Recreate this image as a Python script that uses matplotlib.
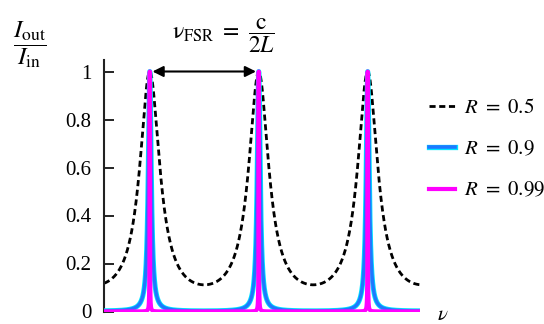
import numpy as np
import matplotlib.pyplot as plt
from matplotlib.lines import Line2D

plt.rcParams['mathtext.fontset'] = 'stix'
plt.rcParams['font.family'] = ['Liberation Serif', 'DejaVu Serif']

# mirror reflectivities shown in the legend
reflectivity = [0.5, 0.9, 0.99]
labels = [r'$R\ =\ 0.5$', r'$R\ =\ 0.9$', r'$R\ =\ 0.99$']
# transmission peaks, in units of the free spectral range
peaks = [0, 1, 2]
x_min, x_max = -0.42, 2.48
y_ticks = [0, 0.2, 0.4, 0.6, 0.8, 1]
y_tick_labels = ['0', '0.2', '0.4', '0.6', '0.8', '1']

nu = np.linspace(x_min, x_max, 40001)


def airy(r):
    f = 4 * r / (1 - r) ** 2
    return 1.0 / (1.0 + f * np.sin(np.pi * nu) ** 2)


fig = plt.figure(figsize=(5.44, 3.24), dpi=100)
ax = fig.add_axes([104 / 544, 1 - 311.5 / 324, 316 / 544, 252 / 324])

ax.plot(nu, airy(reflectivity[0]), color='black', lw=2.0, dashes=(2.2, 1.3), zorder=2)
ax.plot(nu, airy(reflectivity[1]), color='#00e5ff', lw=3.6, zorder=3, solid_capstyle='round')
ax.plot(nu, airy(reflectivity[1]), color='#1e78ff', lw=2.4, zorder=3.1, solid_capstyle='round')
ax.plot(nu, airy(reflectivity[2]), color='#ff00ff', lw=3.0, zorder=4, solid_capstyle='round')

ax.set_xlim(x_min, x_max)
ax.set_ylim(0, 1.05)
ax.set_yticks(y_ticks)
ax.set_yticklabels(y_tick_labels)
ax.set_xticks([])
ax.tick_params(axis='y', direction='in', length=7, width=1.2, pad=9, labelsize=15)
for s in ['top', 'right', 'bottom']:
    ax.spines[s].set_visible(False)
ax.spines['left'].set_linewidth(1.5)
ax.spines['left'].set_color('#222222')

# free spectral range arrow
ax.annotate('', xy=(peaks[0] + 0.025, 1.0), xytext=(peaks[1] - 0.025, 1.0),
            arrowprops=dict(arrowstyle='<|-|>', color='black', lw=1.5,
                            mutation_scale=16, shrinkA=0, shrinkB=0))

fig.text(224 / 544, 1 - 36 / 324, r'$\mathrm{\nu_{FSR}}\ =\ \dfrac{\mathrm{c}}{2L}$',
         fontsize=17, ha='center', va='center')
fig.text(30 / 544, 1 - 45 / 324, r'$\dfrac{I_{\mathrm{out}}}{I_{\mathrm{in}}}$',
         fontsize=18, ha='center', va='center')
fig.text(443 / 544, 1 - 315 / 324, r'$\nu$', fontsize=15, ha='center', va='center')

handles = [
    Line2D([], [], color='black', lw=2.0, dashes=(2.2, 1.3)),
    (Line2D([], [], color='#00e5ff', lw=3.8), Line2D([], [], color='#1e78ff', lw=2.6)),
    Line2D([], [], color='#ff00ff', lw=3.0),
]
fig.legend(handles, labels, loc='upper left', bbox_to_anchor=(421 / 544, 1 - 90 / 324),
           frameon=False, fontsize=15, handlelength=1.25, handletextpad=0.4,
           labelspacing=1.05, borderaxespad=0)

fig.savefig('out.png', dpi=100)
